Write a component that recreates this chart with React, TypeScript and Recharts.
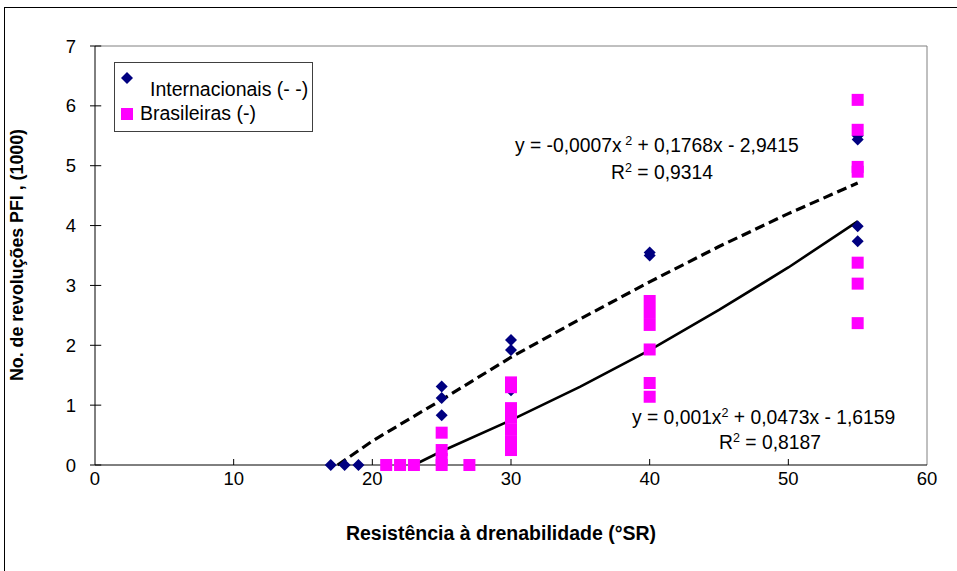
import React from 'react';
import { ComposedChart, Scatter, Line, XAxis, YAxis, ReferenceLine } from 'recharts';

// measured points, x = °SR, y = thousand PFI revolutions
const internacionais = [
  { x: 17, y: 0 }, { x: 18, y: 0 }, { x: 19, y: 0 },
  { x: 25, y: 1.31 }, { x: 25, y: 1.12 }, { x: 25, y: 0.83 },
  { x: 30, y: 2.09 }, { x: 30, y: 1.92 }, { x: 30, y: 1.25 },
  { x: 40, y: 3.55 }, { x: 40, y: 3.5 },
  { x: 55, y: 5.5 }, { x: 55, y: 5.44 }, { x: 55, y: 3.99 }, { x: 55, y: 3.74 },
];

const brasileiras = [
  { x: 21, y: 0 }, { x: 22, y: 0 }, { x: 23, y: 0 },
  { x: 25, y: 0.54 }, { x: 25, y: 0.25 }, { x: 25, y: 0.1 }, { x: 25, y: 0 },
  { x: 27, y: 0 },
  { x: 30, y: 1.38 }, { x: 30, y: 1.3 }, { x: 30, y: 0.95 }, { x: 30, y: 0.8 },
  { x: 30, y: 0.6 }, { x: 30, y: 0.4 }, { x: 30, y: 0.25 },
  { x: 40, y: 2.74 }, { x: 40, y: 2.54 }, { x: 40, y: 2.34 }, { x: 40, y: 1.93 },
  { x: 40, y: 1.37 }, { x: 40, y: 1.14 },
  { x: 55, y: 6.1 }, { x: 55, y: 5.6 }, { x: 55, y: 4.98 }, { x: 55, y: 4.9 },
  { x: 55, y: 3.38 }, { x: 55, y: 3.03 }, { x: 55, y: 2.37 },
];

// polynomial trendlines, sampled along the fitted curves
const trendInternacionais = [
  { x: 17.5, y: 0 }, { x: 20, y: 0.4 }, { x: 25, y: 1.09 }, { x: 30, y: 1.8 },
  { x: 35, y: 2.44 }, { x: 40, y: 3.06 }, { x: 45, y: 3.65 }, { x: 50, y: 4.2 }, { x: 55, y: 4.71 },
];
const trendBrasileiras = [
  { x: 23, y: 0 }, { x: 25, y: 0.23 }, { x: 30, y: 0.75 }, { x: 35, y: 1.31 },
  { x: 40, y: 1.92 }, { x: 45, y: 2.59 }, { x: 50, y: 3.3 }, { x: 55, y: 4.07 },
];

const xTicks = [0, 10, 20, 30, 40, 50, 60];
const yTicks = [0, 1, 2, 3, 4, 5, 6, 7];

const FONT = '"Liberation Sans", Arial, sans-serif';
const NAVY = '#000080';
const MAGENTA = '#FF00FF';

const Diamond = (p: any) => (
  <polygon
    points={`${p.cx},${p.cy - 6} ${p.cx + 6},${p.cy} ${p.cx},${p.cy + 6} ${p.cx - 6},${p.cy}`}
    fill={NAVY}
  />
);

const Square = (p: any) => <rect x={p.cx - 6} y={p.cy - 6} width={12} height={12} fill={MAGENTA} />;

export default function App() {
  return (
    <div style={{ position: 'absolute', left: 0, top: 0, width: 957, height: 571, overflow: 'hidden', background: '#fff', fontFamily: FONT }}>
      <div style={{ position: 'absolute', left: 4, top: 7, width: 1000, height: 700, border: '1px solid #000' }} />
      <ComposedChart
        width={957}
        height={571}
        margin={{ top: 46, right: 30, bottom: 76, left: 55 }}
        style={{ position: 'absolute', left: 0, top: 0 }}
      >
        <XAxis
          type="number"
          dataKey="x"
          domain={[0, 60]}
          ticks={xTicks}
          height={30}
          stroke="#000"
          tickLine={false}
          tickSize={0}
          tickMargin={7}
          tick={{ fill: '#000', fontSize: 18.5, fontFamily: FONT }}
        />
        <YAxis
          type="number"
          dataKey="y"
          domain={[0, 7]}
          ticks={yTicks}
          width={40}
          stroke="#000"
          tickSize={5}
          tickMargin={14}
          tick={{ fill: '#000', fontSize: 18.5, fontFamily: FONT }}
        />
        <ReferenceLine y={7} stroke="#808080" />
        <ReferenceLine x={60} stroke="#808080" />
        {xTicks.slice(1, -1).map((t) => (
          <ReferenceLine key={`xt${t}`} segment={[{ x: t, y: 0 }, { x: t, y: 0.1 }]} stroke="#000" />
        ))}
        {yTicks.map((t) => (
          <ReferenceLine key={`yt${t}`} segment={[{ x: 0, y: t }, { x: 0.45, y: t }]} stroke="#000" />
        ))}
        <Scatter data={internacionais} shape={Diamond} isAnimationActive={false} />
        <Scatter data={brasileiras} shape={Square} isAnimationActive={false} />
        <Line
          data={trendInternacionais}
          dataKey="y"
          type="linear"
          stroke="#000"
          strokeWidth={3.2}
          strokeDasharray="10 5"
          dot={false}
          activeDot={false}
          isAnimationActive={false}
        />
        <Line
          data={trendBrasileiras}
          dataKey="y"
          type="linear"
          stroke="#000"
          strokeWidth={2.6}
          dot={false}
          activeDot={false}
          isAnimationActive={false}
        />
      </ComposedChart>

      <svg width={957} height={571} style={{ position: 'absolute', left: 0, top: 0, pointerEvents: 'none' }} fontFamily={FONT}>
        {/* legend */}
        <rect x={114.5} y={62.5} width={198} height={69} fill="#fff" stroke="#404040" />
        <Diamond cx={127} cy={78} />
        <text x={150} y={96} fontSize={19.5} fill="#000">Internacionais (- -)</text>
        <Square cx={127} cy={114} />
        <text x={140} y={120} fontSize={19.5} fill="#000">Brasileiras (-)</text>

        {/* trendline equations */}
        <text x={515} y={152} fontSize={19.3} fill="#000">
          y = -0,0007x<tspan dy={-7} fontSize={12.5}> 2</tspan><tspan dy={7}> + 0,1768x - 2,9415</tspan>
        </text>
        <text x={662} y={179} fontSize={19.3} fill="#000" textAnchor="middle">
          R<tspan dy={-7} fontSize={12.5}>2</tspan><tspan dy={7}> = 0,9314</tspan>
        </text>
        <text x={632} y={424} fontSize={19.3} fill="#000">
          y = 0,001x<tspan dy={-7} fontSize={12.5}>2</tspan><tspan dy={7}> + 0,0473x - 1,6159</tspan>
        </text>
        <text x={770} y={449} fontSize={19.3} fill="#000" textAnchor="middle">
          R<tspan dy={-7} fontSize={12.5}>2</tspan><tspan dy={7}> = 0,8187</tspan>
        </text>

        {/* axis titles */}
        <text x={501} y={540} fontSize={19.5} fontWeight="bold" textAnchor="middle" fill="#000">
          Resistência à drenabilidade (°SR)
        </text>
        <text
          x={0}
          y={0}
          fontSize={17.8}
          fontWeight="bold"
          textAnchor="middle"
          fill="#000"
          transform="translate(23 255) rotate(-90)"
        >
          No. de revoluções PFI , (1000)
        </text>
      </svg>
    </div>
  );
}
